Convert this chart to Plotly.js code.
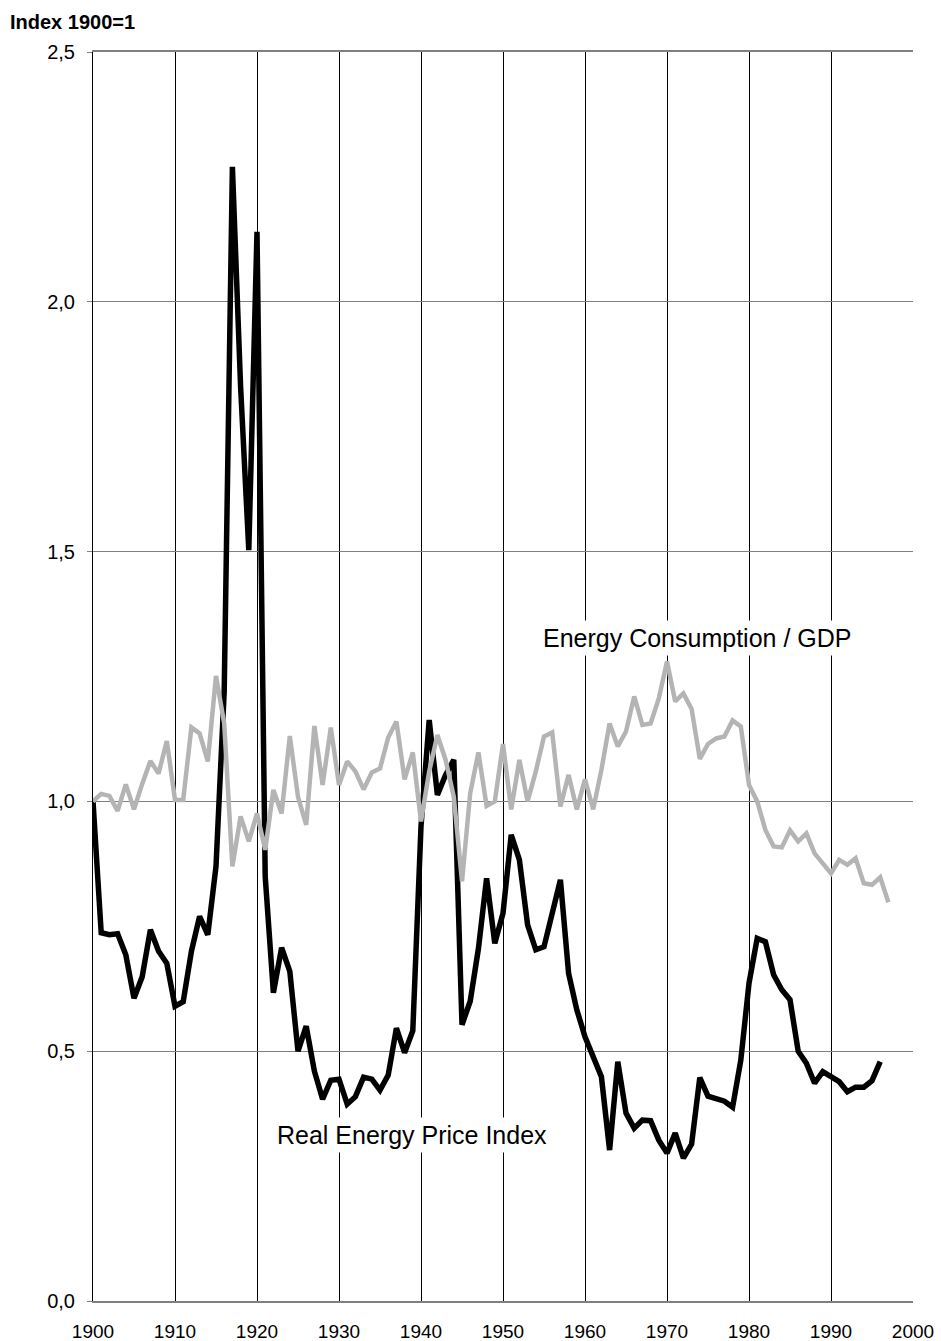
<!DOCTYPE html>
<html>
<head>
<meta charset="utf-8">
<script src="https://cdn.plot.ly/plotly-3.0.1.min.js"></script>
<style>html,body{margin:0;padding:0;background:#fff;}#chart{width:941px;height:1341px;}</style>
</head>
<body>
<div id="chart"></div>
<script>
// Real Energy Price Index, 1900-1996
const priceYears = [1900,1901,1902,1903,1904,1905,1906,1907,1908,1909,
  1910,1911,1912,1913,1914,1915,1916,1917,1918,1919,
  1920,1921,1922,1923,1924,1925,1926,1927,1928,1929,
  1930,1931,1932,1933,1934,1935,1936,1937,1938,1939,
  1940,1941,1942,1943,1944,1945,1946,1947,1948,1949,
  1950,1951,1952,1953,1954,1955,1956,1957,1958,1959,
  1960,1961,1962,1963,1964,1965,1966,1967,1968,1969,
  1970,1971,1972,1973,1974,1975,1976,1977,1978,1979,
  1980,1981,1982,1983,1984,1985,1986,1987,1988,1989,
  1990,1991,1992,1993,1994,1995,1996];
const priceIndex = [1.00,0.737,0.733,0.735,0.693,0.606,0.649,0.743,0.700,0.676,
  0.590,0.599,0.700,0.770,0.733,0.870,1.220,2.270,1.830,1.503,
  2.140,0.850,0.617,0.707,0.660,0.500,0.550,0.460,0.404,0.442,
  0.444,0.394,0.409,0.448,0.444,0.422,0.452,0.546,0.497,0.541,
  0.950,1.163,1.013,1.053,1.083,0.553,0.600,0.705,0.846,0.716,
  0.776,0.933,0.883,0.753,0.703,0.709,0.776,0.843,0.656,0.583,
  0.529,0.489,0.449,0.302,0.479,0.376,0.346,0.362,0.361,0.322,
  0.296,0.336,0.286,0.314,0.447,0.410,0.406,0.400,0.388,0.482,
  0.636,0.726,0.719,0.653,0.623,0.603,0.500,0.476,0.436,0.459,
  0.449,0.439,0.419,0.428,0.428,0.441,0.479];

// Energy Consumption / GDP, 1900-1997
const intensityYears = [1900,1901,1902,1903,1904,1905,1906,1907,1908,1909,
  1910,1911,1912,1913,1914,1915,1916,1917,1918,1919,
  1920,1921,1922,1923,1924,1925,1926,1927,1928,1929,
  1930,1931,1932,1933,1934,1935,1936,1937,1938,1939,
  1940,1941,1942,1943,1944,1945,1946,1947,1948,1949,
  1950,1951,1952,1953,1954,1955,1956,1957,1958,1959,
  1960,1961,1962,1963,1964,1965,1966,1967,1968,1969,
  1970,1971,1972,1973,1974,1975,1976,1977,1978,1979,
  1980,1981,1982,1983,1984,1985,1986,1987,1988,1989,
  1990,1991,1992,1993,1994,1995,1996,1997];
const intensity = [1.000,1.015,1.011,0.981,1.034,0.984,1.035,1.081,1.056,1.121,
  1.003,1.003,1.148,1.136,1.080,1.251,1.156,0.870,0.970,0.920,
  0.976,0.903,1.023,0.976,1.131,1.009,0.953,1.151,1.033,1.148,
  1.033,1.080,1.060,1.024,1.058,1.066,1.128,1.160,1.044,1.098,
  0.960,1.060,1.133,1.083,1.009,0.840,1.016,1.098,0.991,1.000,
  1.115,0.984,1.083,1.000,1.060,1.130,1.138,0.990,1.053,0.984,
  1.044,0.984,1.063,1.156,1.110,1.140,1.210,1.153,1.156,1.206,
  1.280,1.200,1.216,1.185,1.085,1.115,1.126,1.130,1.162,1.150,
  1.033,1.000,0.943,0.910,0.908,0.942,0.920,0.936,0.896,0.876,
  0.856,0.883,0.873,0.886,0.836,0.833,0.848,0.798];

const xTicks = [1900,1910,1920,1930,1940,1950,1960,1970,1980,1990,2000];
const yTicks = [0,0.5,1.0,1.5,2.0,2.5];

const FONT = 'Arial, "Liberation Sans", sans-serif';

const traces = [
  {x: priceYears, y: priceIndex, type: 'scatter', mode: 'lines',
   line: {color: '#000000', width: 5.5, shape: 'linear'}, hoverinfo: 'x+y'},
  {x: intensityYears, y: intensity, type: 'scatter', mode: 'lines',
   line: {color: '#b4b4b4', width: 4.5, shape: 'linear'}, hoverinfo: 'x+y'}
];

const layout = {
  width: 941, height: 1341,
  margin: {l: 93, r: 28, t: 52, b: 40},
  paper_bgcolor: '#ffffff', plot_bgcolor: '#ffffff',
  showlegend: false,
  separators: ',.',
  font: {family: FONT, color: '#000'},
  xaxis: {
    range: [1900, 2000], tickvals: xTicks, ticktext: xTicks.map(String),
    showgrid: true, gridcolor: '#000000', gridwidth: 1,
    showline: true, linecolor: '#808080', linewidth: 2, mirror: true,
    ticks: '', ticklabelstandoff: 12, zeroline: false,
    tickfont: {size: 19, family: FONT}
  },
  yaxis: {
    range: [0, 2.5], tickvals: yTicks, tickformat: '.1f',
    showgrid: true, gridcolor: '#808080', gridwidth: 1,
    showline: true, linecolor: '#000000', linewidth: 1,
    ticks: 'outside', ticklen: 5, tickcolor: '#808080', ticklabelstandoff: 8,
    zeroline: false,
    tickfont: {size: 20, family: FONT}
  },
  annotations: [
    {xref: 'paper', yref: 'paper', x: -0.1037, y: 1.024, xanchor: 'left', yanchor: 'middle',
     text: '<b>Index 1900=1</b>', showarrow: false,
     font: {size: 20, family: FONT, color: '#000'}},
    {xref: 'x', yref: 'y', x: 1973.66, y: 1.327, xanchor: 'center', yanchor: 'middle',
     text: 'Energy Consumption / GDP', showarrow: false, bgcolor: '#ffffff', borderpad: 3,
     font: {size: 25, family: FONT, color: '#000'}},
    {xref: 'x', yref: 'y', x: 1938.9, y: 0.332, xanchor: 'center', yanchor: 'middle',
     text: 'Real Energy Price Index', showarrow: false, bgcolor: '#ffffff', borderpad: 3,
     font: {size: 25, family: FONT, color: '#000'}}
  ]
};

Plotly.newPlot('chart', traces, layout, {displayModeBar: false, staticPlot: true});
</script>
</body>
</html>
